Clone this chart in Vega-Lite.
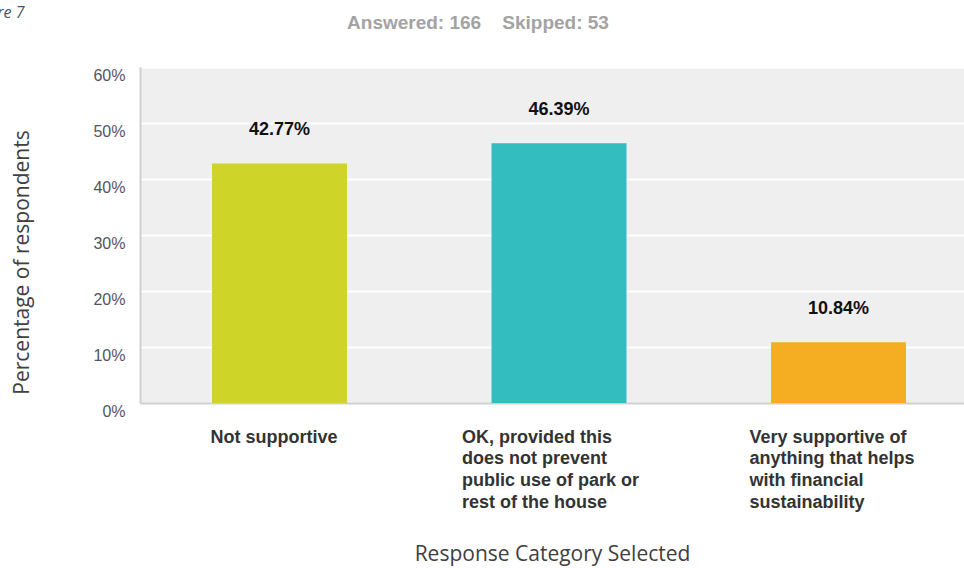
{
  "$schema": "https://vega.github.io/schema/vega-lite/v6.json",
  "width": 824,
  "height": 336,
  "autosize": {"type": "none"},
  "padding": {"left": 140, "top": 67, "right": 0, "bottom": 165},
  "background": "white",
  "config": {"view": {"fill": "#efefef", "stroke": null}},
  "title": {
    "text": "Answered: 166\u00a0\u00a0\u00a0\u00a0Skipped: 53",
    "anchor": "middle",
    "frame": "group",
    "dx": -74,
    "font": "Liberation Sans",
    "fontSize": 19,
    "fontWeight": "bold",
    "color": "#a3a3a3",
    "baseline": "middle",
    "offset": -38
  },
  "data": {
    "values": [
      {"category": "Not supportive", "share": 0.4277},
      {"category": "OK, provided this does not prevent public use of park or rest of the house", "share": 0.4639},
      {"category": "Very supportive of anything that helps with financial sustainability", "share": 0.1084}
    ]
  },
  "encoding": {
    "x": {
      "field": "category",
      "type": "nominal",
      "sort": null,
      "scale": {"paddingInner": 0.517, "paddingOuter": 0.2326, "align": 0.554},
      "axis": {
        "title": "Response Category Selected",
        "titleFont": "Open Sans",
        "titleFontSize": 21,
        "titleFontWeight": "normal",
        "titleColor": "#404040",
        "titleX": 412,
        "titleY": 151,
        "titleAlign": "center",
        "titleBaseline": "middle",
        "labelAngle": 0,
        "labelAlign": "left",
        "labelBaseline": "top",
        "labelFont": "Liberation Sans",
        "labelFontSize": 18,
        "labelFontWeight": "bold",
        "labelColor": "#333333",
        "labelLineHeight": 21.7,
        "labelPadding": 25,
        "labelLimit": 0,
        "labelOverlap": false,
        "labelExpr": "datum.value == 'Not supportive' ? 'Not supportive' : indexof(datum.value, 'OK') == 0 ? ['OK, provided this', 'does not prevent', 'public use of park or', 'rest of the house'] : ['Very supportive of', 'anything that helps', 'with financial', 'sustainability']",
        "labelOffset": {
          "condition": [
            {"test": "datum.value == 'Not supportive'", "value": -69},
            {"test": "indexof(datum.value, 'OK') == 0", "value": -97}
          ],
          "value": -89
        },
        "ticks": false,
        "tickSize": 0,
        "domainColor": "#d0d0d0",
        "domainWidth": 2
      }
    }
  },
  "layer": [
    {
      "mark": {"type": "bar"},
      "encoding": {
        "y": {
          "field": "share",
          "type": "quantitative",
          "scale": {"domain": [0, 0.6]},
          "axis": {
            "title": "Percentage of respondents",
            "titleFont": "Open Sans",
            "titleFontSize": 21,
            "titleFontWeight": "normal",
            "titleColor": "#404040",
            "titleX": -118,
            "titleY": 195,
            "titleAngle": -90,
            "titleAlign": "center",
            "titleBaseline": "middle",
            "values": [0, 0.1, 0.2, 0.3, 0.4, 0.5, 0.6],
            "format": ".0%",
            "labelFont": "Liberation Sans",
            "labelFontSize": 16,
            "labelColor": "#555555",
            "labelPadding": 15,
            "labelOffset": 8,
            "ticks": false,
            "tickSize": 0,
            "domainColor": "#d0d0d0",
            "domainWidth": 2,
            "gridColor": "#ffffff",
            "gridWidth": 2,
            "gridOpacity": 1
          }
        },
        "color": {
          "field": "category",
          "type": "nominal",
          "sort": null,
          "scale": {"range": ["#ced428", "#33bdbe", "#f5ae21"]},
          "legend": null
        }
      }
    },
    {
      "mark": {
        "type": "text",
        "baseline": "middle",
        "dy": -33,
        "font": "Liberation Sans",
        "fontSize": 18,
        "fontWeight": "bold",
        "color": "#111111"
      },
      "encoding": {
        "y": {
          "field": "share",
          "type": "quantitative",
          "scale": {"domain": [0, 0.6]},
          "axis": {
            "orient": "right",
            "labels": false,
            "ticks": false,
            "tickSize": 0,
            "domain": false,
            "grid": false,
            "title": "Figure 7",
            "titleX": -940,
            "titleY": -55,
            "titleAngle": 0,
            "titleAlign": "right",
            "titleBaseline": "middle",
            "titleFont": "Open Sans",
            "titleFontStyle": "italic",
            "titleFontWeight": "normal",
            "titleFontSize": 16,
            "titleColor": "#44546a"
          }
        },
        "text": {"field": "share", "type": "quantitative", "format": ".2%"}
      }
    }
  ],
  "resolve": {"scale": {"y": "independent"}}
}
